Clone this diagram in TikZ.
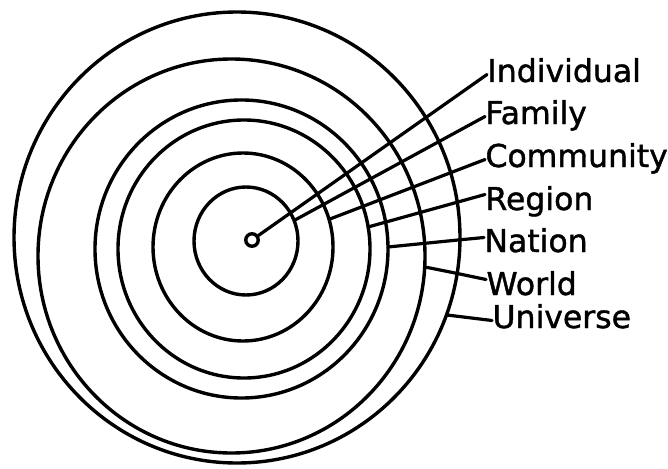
\documentclass[tikz,border=0pt]{standalone}
\usepackage{fontspec}
\setmainfont[FakeBold=1.3]{DejaVu Sans}
\begin{document}
\begin{tikzpicture}[x=1pt,y=-1pt,
  ringline/.style={draw, line width=3.4pt},
  lbl/.style={anchor=base west, inner sep=0pt, outer sep=0.5pt,
    font=\fontsize{31.5}{32}\selectfont, text height=23pt, text depth=0pt},
  conn/.style={line width=3.2pt, line join=round, line cap=round}]
\useasboundingbox (0,0) rectangle (668,468);
% rings
\draw[ringline] (246,241) ellipse [x radius=52pt, y radius=54pt];
\draw[ringline] (243,247) ellipse [x radius=90pt, y radius=94pt];
\draw[ringline] (244,249) ellipse [x radius=126pt, y radius=129pt];
\draw[ringline] (241.5,249) ellipse [x radius=146.5pt, y radius=149pt];
\draw[ringline] (231.5,256) ellipse [x radius=193.5pt, y radius=197pt];
\draw[ringline] (237,237.5) ellipse [x radius=223pt, y radius=225.5pt];
% centre dot
\node[circle, draw, line width=3.4pt, minimum size=12.5pt, inner sep=0pt] (dot) at (252,240) {};
% start points on rings
\coordinate (sF) at (295,220);
\coordinate (sC) at (330,219);
\coordinate (sR) at (368,227);
\coordinate (sN) at (388,247);
\coordinate (sW) at (425,267);
\coordinate (sU) at (447,315);
\coordinate (kN) at (458,240);
\coordinate (kW) at (455,273);
% labels
\node[lbl] (individual) at (487,82) {Individual};
\node[lbl] (family) at (485,124) {Family};
\node[lbl] (community) at (485,167) {Community};
\node[lbl] (region) at (485,210) {Region};
\node[lbl] (nation) at (484,252) {Nation};
\node[lbl] (world) at (486,295) {World};
\node[lbl] (universe) at (492,328) {Universe};
% connectors
\draw[conn] (dot) -- ([yshift=-4pt]individual.west);
\draw[conn] (sF) -- ([yshift=-4pt]family.west);
\draw[conn] (sC) -- ([yshift=-4pt]community.west);
\draw[conn] (sR) -- ([yshift=4pt]region.west);
\draw[conn] (sN) -- (kN) -- ([yshift=3pt]nation.west);
\draw[conn] (sW) -- (kW) -- ([yshift=4pt]world.west);
\draw[conn] (sU) -- ([yshift=-4pt]universe.west);
\end{tikzpicture}
\end{document}
